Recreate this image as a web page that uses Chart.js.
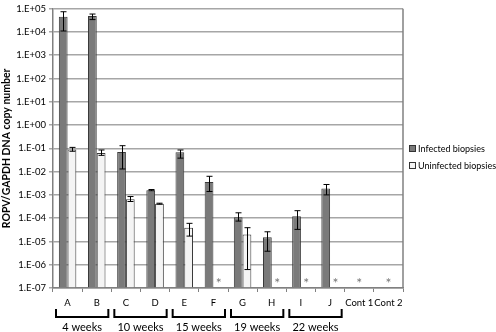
<!DOCTYPE html>
<html>
<head>
<meta charset="utf-8">
<script src="https://cdn.jsdelivr.net/npm/chart.js@4"></script>
<style>
  html, body { margin: 0; padding: 0; background: #fff; }
  #wrap { position: relative; width: 496px; height: 332px; }
</style>
</head>
<body>
<div id="wrap"><canvas id="bar-chart"></canvas></div>
<script>
// categories and groups
const categories = ["A", "B", "C", "D", "E", "F", "G", "H", "I", "J", "Cont 1", "Cont 2"];
const groupLabels = ["4 weeks", "10 weeks", "15 weeks", "19 weeks", "22 weeks"];
const groupStart = [0, 2, 4, 6, 8];

// series values (ROPV/GAPDH copy number) with error range
const infected     = [4.5e4, 4.8e4, 0.069, 1.6e-3, 0.068, 3.6e-3, 1.1e-4, 1.5e-5, 1.2e-4, 1.9e-3, null, null];
const infectedLow  = [1.1e4, 3.4e4, 0.013, 1.5e-3, 0.038, 1.4e-3, 7.5e-5, 3.8e-6, 3.3e-5, 1.0e-3, null, null];
const infectedHigh = [7.4e4, 5.9e4, 0.13, 1.7e-3, 0.085, 6.3e-3, 1.7e-4, 2.6e-5, 2.1e-4, 2.8e-3, null, null];

const uninfected     = [0.09, 0.063, 6.5e-4, 4.2e-4, 3.9e-5, null, 2.0e-5, null, null, null, null, null];
const uninfectedLow  = [0.075, 0.05, 5.2e-4, 4.0e-4, 1.7e-5, null, 6.2e-7, null, null, null, null, null];
const uninfectedHigh = [0.11, 0.085, 8.5e-4, 4.4e-4, 6.0e-5, null, 3.9e-5, null, null, null, null, null];

// not detected markers (asterisks)
const notDetected = [
  { index: 5, dataset: 1 }, { index: 7, dataset: 1 }, { index: 8, dataset: 1 },
  { index: 9, dataset: 1 }, { index: 10, dataset: null }, { index: 11, dataset: null }
];

// y ticks
const yTicks = [1e-7, 1e-6, 1e-5, 1e-4, 1e-3, 1e-2, 1e-1, 1e0, 1e1, 1e2, 1e3, 1e4, 1e5];

const FONT = "Lato, 'Open Sans', sans-serif";

function formatExp(v) {
  const e = Math.round(Math.log10(v));
  const s = e < 0 ? "-" : "+";
  return "1.E" + s + String(Math.abs(e)).padStart(2, "0");
}

const extras = {
  id: "extras",
  afterDatasetsDraw(chart) {
    const ctx = chart.ctx;
    const y = chart.scales.y;
    const x = chart.scales.x;
    const area = chart.chartArea;

    // error bars
    const ranges = [[infectedLow, infectedHigh], [uninfectedLow, uninfectedHigh]];
    ctx.save();
    ctx.strokeStyle = "#000";
    ctx.lineWidth = 1;
    ranges.forEach((r, di) => {
      const meta = chart.getDatasetMeta(di);
      r[0].forEach((lo, i) => {
        const hi = r[1][i];
        if (lo == null || hi == null) return;
        const px = Math.round(meta.data[i].x) + 0.5;
        const y1 = y.getPixelForValue(hi);
        const y2 = y.getPixelForValue(lo);
        ctx.beginPath();
        ctx.moveTo(px, y1); ctx.lineTo(px, y2);
        ctx.moveTo(px - 3, y1); ctx.lineTo(px + 3, y1);
        ctx.moveTo(px - 3, y2); ctx.lineTo(px + 3, y2);
        ctx.stroke();
      });
    });

    // asterisks
    ctx.fillStyle = "#777";
    ctx.font = "14px " + FONT;
    ctx.textAlign = "center";
    ctx.textBaseline = "middle";
    notDetected.forEach(n => {
      const px = n.dataset == null ? x.getPixelForValue(n.index)
                                   : chart.getDatasetMeta(n.dataset).data[n.index].x + 1;
      ctx.fillText("*", px, area.bottom - 5);
    });

    // right border
    ctx.strokeStyle = "#808080";
    ctx.lineWidth = 1.5;
    ctx.beginPath();
    ctx.moveTo(area.right, area.top);
    ctx.lineTo(area.right, area.bottom);
    ctx.stroke();
    ctx.restore();
  },
  afterDraw(chart) {
    const ctx = chart.ctx;
    const x = chart.scales.x;
    const area = chart.chartArea;
    const half = (x.getPixelForValue(1) - x.getPixelForValue(0)) / 2;

    ctx.save();
    // group brackets
    ctx.strokeStyle = "#000";
    ctx.lineWidth = 2;
    ctx.fillStyle = "#000";
    ctx.font = "11px " + FONT;
    ctx.textAlign = "center";
    ctx.textBaseline = "middle";
    groupLabels.forEach((g, k) => {
      const x1 = x.getPixelForValue(groupStart[k]) - half + 3;
      const x2 = x.getPixelForValue(groupStart[k] + 1) + half - 3;
      const yb = area.bottom + 29;
      ctx.beginPath();
      ctx.moveTo(x1, yb - 8); ctx.lineTo(x1, yb); ctx.lineTo(x2, yb); ctx.lineTo(x2, yb - 8);
      ctx.stroke();
      ctx.fillText(g, (x1 + x2) / 2, yb + 10);
    });

    // legend
    const items = [["Infected biopsies", "#7a7a7a"], ["Uninfected biopsies", "#f4f4f4"]];
    ctx.font = "9px " + FONT;
    ctx.textAlign = "left";
    ctx.lineWidth = 1;
    items.forEach((it, k) => {
      const ly = 149 + k * 17;
      ctx.fillStyle = it[1];
      ctx.fillRect(409.5, ly - 3.5, 6, 6);
      ctx.strokeStyle = "#333";
      ctx.strokeRect(409.5, ly - 3.5, 6, 6);
      ctx.fillStyle = "#000";
      ctx.fillText(it[0], 418, ly);
    });
    ctx.restore();
  }
};

new Chart(document.getElementById("bar-chart"), {
  type: "bar",
  data: {
    labels: categories,
    datasets: [
      {
        label: "Infected biopsies",
        data: infected,
        backgroundColor: "#7a7a7a",
        borderColor: "#3a3a3a",
        borderWidth: 1,
        base: 1e-7,
        categoryPercentage: 0.6,
        barPercentage: 1.0
      },
      {
        label: "Uninfected biopsies",
        data: uninfected,
        backgroundColor: "#f4f4f4",
        borderColor: "#3a3a3a",
        borderWidth: 1,
        base: 1e-7,
        categoryPercentage: 0.6,
        barPercentage: 1.0
      }
    ]
  },
  options: {
    responsive: true,
    maintainAspectRatio: false,
    animation: false,
    layout: { padding: { left: 0, top: 4, right: 93, bottom: 0 } },
    plugins: {
      legend: { display: false },
      tooltip: { enabled: false }
    },
    scales: {
      x: {
        grid: { drawOnChartArea: false, offset: true, color: "#808080", tickLength: 4 },
        border: { color: "#808080", width: 1.5 },
        ticks: { color: "#000", font: { family: FONT, size: 9.5 }, padding: 5, maxRotation: 0, autoSkip: false },
        afterFit(scale) { scale.height = 44; }
      },
      y: {
        type: "logarithmic",
        min: 1e-7,
        max: 1e5,
        afterBuildTicks(scale) { scale.ticks = yTicks.map(v => ({ value: v, major: true })); },
        grid: { color: "#a6a6a6", lineWidth: 1.5, tickLength: 4 },
        border: { color: "#808080", width: 1.5 },
        ticks: {
          color: "#000",
          font: { family: FONT, size: 9.5 },
          padding: 3,
          callback: v => formatExp(v)
        },
        title: {
          display: true,
          text: "ROPV/GAPDH DNA copy number",
          color: "#000",
          font: { family: FONT, size: 10.5, weight: "bold" },
          padding: { top: 0, bottom: 2 }
        },
        afterFit(scale) { scale.width = 53; }
      }
    }
  },
  plugins: [extras]
});
</script>
</body>
</html>
